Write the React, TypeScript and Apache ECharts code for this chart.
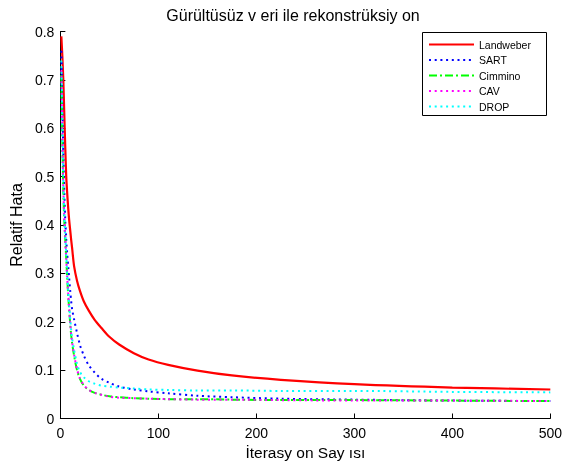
import React, { useEffect, useRef } from "react";
import * as echarts from "echarts";

const iterations = [1, 2, 3, 4, 5, 6, 7, 8, 9, 10, 11, 12, 14, 17, 20, 24, 29, 35, 42, 50, 60, 75, 90, 110, 140, 175, 225, 300, 400, 500];

const landweber = [0.79, 0.75, 0.70, 0.63, 0.56, 0.50, 0.465, 0.435, 0.41, 0.39, 0.37, 0.352, 0.315, 0.285, 0.264, 0.242, 0.223, 0.204, 0.187, 0.169, 0.153, 0.135, 0.122, 0.111, 0.099, 0.089, 0.080, 0.071, 0.064, 0.060];
const sart = [0.76, 0.65, 0.55, 0.47, 0.41, 0.37, 0.34, 0.315, 0.29, 0.265, 0.243, 0.226, 0.205, 0.177, 0.152, 0.13, 0.11, 0.095, 0.082, 0.074, 0.066, 0.060, 0.056, 0.052, 0.047, 0.044, 0.041, 0.039, 0.037, 0.036];
const cimmino = [0.71, 0.58, 0.47, 0.41, 0.37, 0.33, 0.29, 0.255, 0.225, 0.197, 0.173, 0.156, 0.13, 0.10, 0.082, 0.068, 0.059, 0.053, 0.049, 0.046, 0.044, 0.042, 0.041, 0.040, 0.040, 0.039, 0.038, 0.038, 0.037, 0.036];
const cav = [0.72, 0.59, 0.48, 0.415, 0.372, 0.332, 0.292, 0.258, 0.227, 0.199, 0.175, 0.158, 0.132, 0.102, 0.083, 0.069, 0.059, 0.053, 0.049, 0.045, 0.043, 0.042, 0.041, 0.040, 0.039, 0.039, 0.038, 0.037, 0.037, 0.036];
const drop = [0.74, 0.61, 0.50, 0.43, 0.38, 0.34, 0.30, 0.265, 0.235, 0.207, 0.183, 0.166, 0.142, 0.113, 0.096, 0.085, 0.077, 0.072, 0.068, 0.066, 0.064, 0.062, 0.060, 0.059, 0.058, 0.058, 0.057, 0.057, 0.055, 0.054];

const seriesNames = ["Landweber", "SART", "Cimmino", "CAV", "DROP"];
const titleText = "Gürültüsüz v eri ile rekonstrüksiy on";
const xName = "İterasy on Say ısı";
const yName = "Relatif Hata";

const FONT = "'Liberation Sans', Arial, Helvetica, sans-serif";

export default function App() {
  const ref = useRef<HTMLDivElement>(null);
  useEffect(() => {
    if (!ref.current) return;
    const chart = echarts.init(ref.current, undefined, { renderer: "svg" });
    const pairs = (vals: number[]) => iterations.map((x, i) => [x, vals[i]]);
    const styles: any[] = [
      { color: "#ff0000", width: 2.2, type: "solid" },
      { color: "#0000ff", width: 2, type: [2, 3.7] },
      { color: "#00ff00", width: 2, type: [8, 3, 2, 3] },
      { color: "#ff00ff", width: 2, type: [2, 3.7] },
      { color: "#00ffff", width: 2, type: [2, 3.7] },
    ];
    const data = [landweber, sart, cimmino, cav, drop];
    chart.setOption({
      animation: false,
      textStyle: { fontFamily: FONT },
      title: {
        text: titleText,
        left: 288,
        top: 2,
        textAlign: "center",
        textStyle: { fontSize: 16, fontWeight: "normal", color: "#000", fontFamily: FONT },
      },
      grid: { left: 58, right: 13, top: 31.5, bottom: 49.5, containLabel: false },
      xAxis: {
        type: "value",
        min: 0,
        max: 500,
        interval: 100,
        name: xName,
        nameLocation: "middle",
        nameGap: 24,
        nameTextStyle: { fontSize: 15.5, color: "#000", fontFamily: FONT },
        axisLine: { show: true, lineStyle: { color: "#000", width: 1 } },
        axisTick: { show: true, inside: true, length: 5, lineStyle: { color: "#000" } },
        axisLabel: { color: "#000", fontSize: 14, margin: 7, fontFamily: FONT },
        splitLine: { show: false },
      },
      yAxis: {
        type: "value",
        min: 0,
        max: 0.8,
        interval: 0.1,
        name: yName,
        nameLocation: "middle",
        nameGap: 33,
        nameTextStyle: { fontSize: 16, color: "#000", fontFamily: FONT },
        axisLine: { show: true, lineStyle: { color: "#000", width: 1 } },
        axisTick: { show: true, inside: true, length: 5, lineStyle: { color: "#000" } },
        axisLabel: { color: "#000", fontSize: 14, margin: 6, fontFamily: FONT },
        splitLine: { show: false },
      },
      legend: {
        data: seriesNames,
        orient: "vertical",
        left: 422,
        top: 32,
        padding: [7, 6, 2, 6],
        itemWidth: 45,
        itemHeight: 12,
        itemGap: 4.5,
        itemStyle: { opacity: 0 },
        textStyle: { fontSize: 10.5, color: "#000", fontFamily: FONT },
        z: 5,
      },
      graphic: [
        {
          type: "rect",
          left: 422,
          top: 32,
          z: 4,
          shape: { width: 124, height: 83 },
          style: { fill: "#fff", stroke: "#000", lineWidth: 1 },
        },
      ],
      series: seriesNames.map((name, i) => ({
        name,
        type: "line",
        data: pairs(data[i]),
        showSymbol: false,
        symbol: "none",
        smooth: 0.3,
        lineStyle: styles[i],
        itemStyle: { color: styles[i].color },
      })),
    });
    return () => chart.dispose();
  }, []);
  return <div ref={ref} style={{ position: "fixed", left: 0, top: 0, width: 565, height: 468 }} />;
}
